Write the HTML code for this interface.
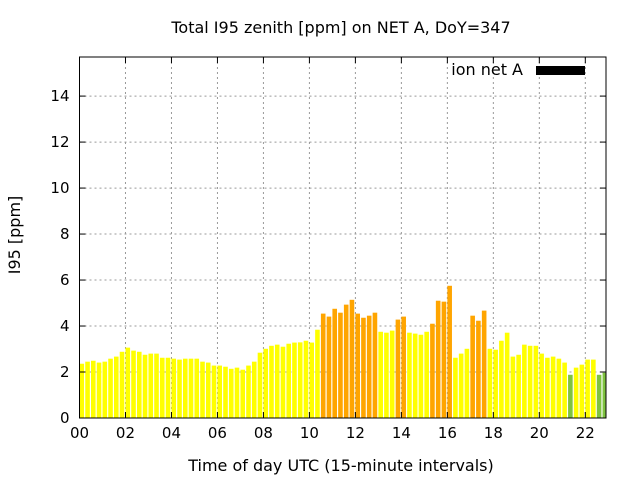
<!DOCTYPE html>
<html><head><meta charset="utf-8"><style>body{margin:0;background:#fff}svg{display:block}text{font-family:"DejaVu Sans","Liberation Sans",sans-serif;font-size:15px;fill:#000}.big{font-size:16px}</style></head>
<body>
<svg id="chart" width="640" height="480">
<text class="big" x="341" y="33" text-anchor="middle">Total I95 zenith [ppm] on NET A, DoY=347</text>
<text class="big" x="341" y="471" text-anchor="middle">Time of day UTC (15-minute intervals)</text>
<text class="big" transform="translate(20,235) rotate(-90)" text-anchor="middle">I95 [ppm]</text>
<g id="grid"></g><g id="bars"></g><g id="axes"></g>
<g>
<text class="big" x="523" y="75" text-anchor="end">ion net A</text>
<rect x="536" y="66" width="49" height="9" fill="#000"></rect>
</g>
</svg>
<script>
const values=[2.36,2.45,2.49,2.41,2.45,2.58,2.67,2.88,3.06,2.93,2.88,2.75,2.80,2.80,2.62,2.62,2.58,2.54,2.58,2.58,2.58,2.45,2.41,2.28,2.28,2.23,2.14,2.19,2.10,2.28,2.45,2.84,3.01,3.14,3.19,3.10,3.23,3.28,3.29,3.36,3.28,3.84,4.54,4.41,4.75,4.58,4.93,5.14,4.54,4.36,4.45,4.58,3.75,3.71,3.80,4.28,4.41,3.71,3.67,3.62,3.75,4.10,5.10,5.06,5.75,2.62,2.80,3.01,4.45,4.23,4.67,3.01,2.97,3.36,3.71,2.67,2.75,3.19,3.14,3.14,2.80,2.62,2.67,2.58,2.41,1.88,2.19,2.32,2.54,2.54,1.88,1.97];
const levels=[1,1,1,1,1,1,1,1,1,1,1,1,1,1,1,1,1,1,1,1,1,1,1,1,1,1,1,1,1,1,1,1,1,1,1,1,1,1,1,1,1,1,2,2,2,2,2,2,2,2,2,2,1,1,1,2,2,1,1,1,1,2,2,2,2,1,1,1,2,2,2,1,1,1,1,1,1,1,1,1,1,1,1,1,1,0,1,1,1,1,0,0];
const xTicks=["00","02","04","06","08","10","12","14","16","18","20","22"];
const yTicks=[0,2,4,6,8,10,12,14];
const colors=["#7fc340","#ffff00","#ffa500"];
const L=79.5,R=606,T=57,B=418,XMAX=22.9,YMAX=15.7;
const sx=h=>L+h*(R-L)/XMAX, sy=v=>B-v*(B-T)/YMAX;
const NS="http://www.w3.org/2000/svg";
function mk(tag,attrs,parent){const e=document.createElementNS(NS,tag);for(const k in attrs)e.setAttribute(k,attrs[k]);document.getElementById(parent).appendChild(e);return e;}
const bw=(sx(0.25)-sx(0))*0.8;
values.forEach((v,i)=>{
 const x=sx(i*0.25);const w=Math.min(bw,R-x);
 const r=mk('rect',{x:x,y:sy(v),width:Math.max(0,w),height:B-sy(v),fill:colors[levels[i]]},'bars');
 
 
});
xTicks.forEach((t,i)=>{
 const x=sx(i*2);
 if(i>0){const g=mk('line',{x1:x,x2:x,y1:T,y2:B,stroke:'#999','stroke-dasharray':'2,3'},'grid');}
 mk('line',{x1:x,x2:x,y1:B,y2:B-6,stroke:'#000'},'axes');
 mk('line',{x1:x,x2:x,y1:T,y2:T+6,stroke:'#000'},'axes');
 const tx=mk('text',{x:x,y:B+20,'text-anchor':'middle'},'axes');tx.textContent=t;
 
 
});
yTicks.forEach(v=>{
 const y=sy(v);
 if(v>0){const g=mk('line',{x1:L,x2:R,y1:y,y2:y,stroke:'#999','stroke-dasharray':'2,3'},'grid');}
 mk('line',{x1:L,x2:L+6,y1:y,y2:y,stroke:'#000'},'axes');
 mk('line',{x1:R,x2:R-6,y1:y,y2:y,stroke:'#000'},'axes');
 const tx=mk('text',{x:L-10,y:y+5,'text-anchor':'end'},'axes');tx.textContent=v;
 
 
});
const f=mk('rect',{x:L,y:T,width:R-L,height:B-T,fill:'none',stroke:'#000'},'axes');


</script>
</body></html>
